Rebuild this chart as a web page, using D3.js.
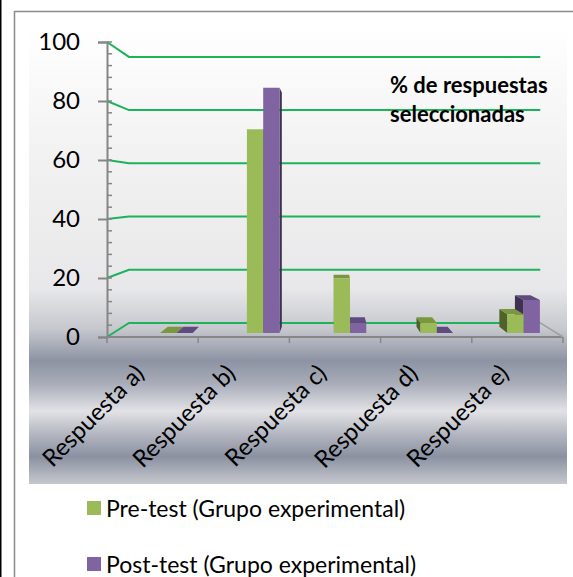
<!DOCTYPE html>
<html>
<head>
<meta charset="utf-8">
<script src="https://cdn.jsdelivr.net/npm/d3@7"></script>
<style>
  body { margin: 0; background: #fff; }
  svg { display: block; }
  text { font-family: Lato, "Open Sans", sans-serif; }
</style>
</head>
<body>
<script>
// ---- data ----
const categories = ["Respuesta a)", "Respuesta b)", "Respuesta c)", "Respuesta d)", "Respuesta e)"];
const preTest  = [0, 71, 19, 3.5, 6.5];
const postTest = [0, 85.5, 3.5, 0, 11.5];
const seriesNames = ["Pre-test (Grupo experimental)", "Post-test (Grupo experimental)"];
const yTicks = [0, 20, 40, 60, 80, 100];
const chartTitle = ["% de respuestas", "seleccionadas"];

const W = 573, H = 577;
const svg = d3.select("body").append("svg").attr("width", W).attr("height", H);

// ---- frame ----
svg.append("rect").attr("x", 0).attr("y", 0).attr("width", 1.5).attr("height", H).attr("fill", "#000");
svg.append("path").attr("d", `M14.5,${H} V11.5 H${W}`)
  .attr("fill", "none").attr("stroke", "#8c8c8c").attr("stroke-width", 1.5);

// ---- plot area background (silver band gradient) ----
const defs = svg.append("defs");
const bg = defs.append("linearGradient").attr("id", "bgGrad")
  .attr("x1", 0).attr("y1", 0).attr("x2", 0).attr("y2", 1);
[[0, "#ffffff"], [0.27, "#f2f2f2"], [0.57, "#e8e8ea"], [0.66, "#c6c8ce"], [0.73, "#8d93a3"],
 [0.78, "#a9adb9"], [0.84, "#e2e2e6"], [0.89, "#b4b7c1"], [0.94, "#8b91a1"], [1, "#c6c8ce"]]
  .forEach(([o, c]) => bg.append("stop").attr("offset", o).attr("stop-color", c));
svg.append("rect").attr("x", 29).attr("y", 28).attr("width", 538).attr("height", 456)
  .attr("fill", "url(#bgGrad)");

// ---- 3D geometry: front plane scales + perspective depth ----
const vp = [331, 194];      // vanishing point
const depth = 0.098;        // fraction toward vp for the back wall
const x = d3.scaleBand().domain(categories).range([107, 563]);
const y = d3.scaleLinear().domain([0, 100]).range([337, 42]);
const proj = (p, z) => [p[0] + z * depth * (vp[0] - p[0]), p[1] + z * depth * (vp[1] - p[1])];

// gridlines: left wall diagonal + back wall horizontal
const gridG = svg.append("g");
yTicks.forEach(v => {
  const a = [107, y(v)], b = proj([107, y(v)], 1), c = proj([563, y(v)], 1);
  gridG.append("path").attr("d", d3.line()([a, b, c]))
    .attr("fill", "none").attr("stroke", "#1db35a").attr("stroke-width", 2);
});

// ---- value axis ----
const axisColor = "#868686";
const yAxis = svg.append("g").attr("transform", "translate(107,0)")
  .call(d3.axisLeft(y).tickValues(yTicks).tickSize(9).tickPadding(18).tickFormat(d3.format("d")));
yAxis.select(".domain").attr("stroke", axisColor).attr("stroke-width", 2);
yAxis.selectAll(".tick line").attr("stroke", axisColor).attr("stroke-width", 2);
yAxis.selectAll(".tick text").attr("font-size", 24).attr("fill", "#000")
  .attr("font-family", "Lato, 'Open Sans', sans-serif");
// minor ticks
svg.append("g").selectAll("line").data(d3.range(0, 101, 4)).join("line")
  .attr("x1", 107).attr("x2", 112).attr("y1", d => y(d)).attr("y2", d => y(d))
  .attr("stroke", axisColor).attr("stroke-width", 1.5);

// ---- category axis (floor front edge) ----
svg.append("line").attr("x1", 107).attr("x2", 563).attr("y1", y(0)).attr("y2", y(0))
  .attr("stroke", axisColor).attr("stroke-width", 2);
svg.append("path").attr("d", d3.line()([[563, y(0)], proj([563, y(0)], 1)]))
  .attr("stroke", "#a0a0a0").attr("stroke-width", 1.5).attr("fill", "none");
const bounds = categories.map(c => x(c)).concat([x.range()[1]]);
svg.append("g").selectAll("line").data(bounds).join("line")
  .attr("x1", d => d).attr("x2", d => d).attr("y1", y(0)).attr("y2", y(0) + 6)
  .attr("stroke", axisColor).attr("stroke-width", 1.5);

svg.append("g").selectAll("text").data(categories).join("text")
  .attr("transform", d => `translate(${x(d) + x.bandwidth() / 2 - 7},${y(0) + 38}) rotate(-45)`)
  .attr("text-anchor", "end").attr("font-size", 24).attr("fill", "#000")
  .text(d => d);

// ---- bars (front face scales, extruded toward the vanishing point) ----
const xb = d3.scaleBand().domain(categories).range([133, 567]);
const yb = d3.scaleLinear().domain([0, 100]).range([333, 333 - 286.8]);
const barW = 16.3, barT = 0.045;
const back = p => [p[0] + barT * (vp[0] - p[0]), p[1] + barT * (vp[1] - p[1])];
const styles = [
  { front: "#9bbb59", top: "#7a963e", side: "#4f6228" },
  { front: "#8064a2", top: "#614a7f", side: "#3f3151" }
];
const barG = svg.append("g");
function drawBar(x0, v, st) {
  const x1 = x0 + barW, yt = yb(v), y0 = yb(0);
  const ftl = [x0, yt], ftr = [x1, yt], fbl = [x0, y0], fbr = [x1, y0];
  const btl = back(ftl), btr = back(ftr), bbl = back(fbl), bbr = back(fbr);
  const poly = (pts, fill) => barG.append("path").attr("d", d3.line()(pts) + "Z").attr("fill", fill);
  if (x0 > vp[0]) poly([ftl, fbl, bbl, btl], st.side);
  if (x1 < vp[0]) poly([ftr, fbr, bbr, btr], st.side);
  if (yt > vp[1]) poly([ftl, ftr, btr, btl], st.top);
  if (v > 0) poly([ftl, ftr, fbr, fbl], st.front);
}
categories.forEach((c, i) => {
  const cx = xb(c) + xb.bandwidth() / 2;
  const bars = [
    { x0: cx - barW, v: preTest[i], st: styles[0] },
    { x0: cx, v: postTest[i], st: styles[1] }
  ];
  const order = cx < vp[0] ? bars : bars.slice().reverse();
  order.forEach(b => drawBar(b.x0, b.v, b.st));
});

// ---- chart title ----
svg.append("text").attr("x", 390).attr("y", 93).attr("font-size", 22).attr("font-weight", "bold")
  .selectAll("tspan").data(chartTitle).join("tspan")
  .attr("x", 390).attr("dy", (d, i) => i === 0 ? 0 : 29).text(d => d);

// ---- legend ----
const legend = svg.append("g").selectAll("g").data(seriesNames).join("g")
  .attr("transform", (d, i) => `translate(87,${501 + i * 56})`);
legend.append("rect").attr("width", 14).attr("height", 14).attr("fill", (d, i) => styles[i].front);
legend.append("text").attr("x", 19).attr("y", 15.5).attr("font-size", 23).attr("fill", "#000").text(d => d);
</script>
</body>
</html>
